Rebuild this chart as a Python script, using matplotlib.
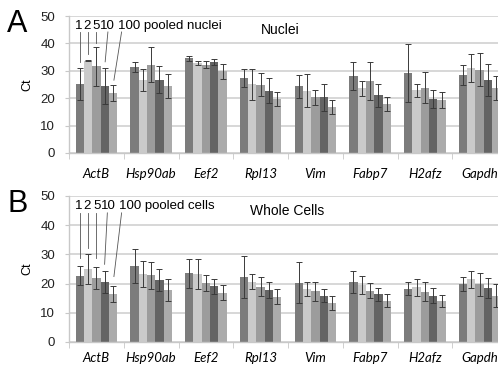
import matplotlib
matplotlib.use("Agg")
from matplotlib import pyplot as plt
import numpy as np

genes = ["ActB", "Hsp90ab", "Eef2", "Rpl13", "Vim", "Fabp7", "H2afz", "Gapdh"]
pools = ["1", "2", "5", "10", "100"]

# Ct means per pool size (rows) for each gene (columns)
nuclei_ct = [
    [25.3, 31.5, 34.6, 27.4, 24.3, 28.1, 29.2, 28.4],
    [33.7, 26.7, 32.8, 25.1, 22.8, 23.6, 22.9, 31.0],
    [31.6, 32.2, 32.3, 24.9, 20.3, 26.2, 23.8, 30.4],
    [24.5, 26.8, 33.3, 22.7, 20.3, 21.0, 19.7, 26.6],
    [21.9, 24.5, 29.8, 19.8, 16.8, 17.8, 19.3, 23.7],
]
nuclei_err = [
    [5.8, 1.9, 1.0, 3.4, 4.3, 5.0, 10.5, 3.6],
    [0.2, 4.0, 0.8, 5.7, 5.9, 2.8, 2.4, 5.0],
    [7.0, 6.4, 1.4, 4.2, 2.6, 6.9, 5.7, 6.0],
    [6.5, 5.0, 1.0, 4.6, 5.0, 4.3, 3.3, 5.8],
    [2.8, 4.5, 2.7, 2.6, 2.6, 2.5, 2.8, 4.4],
]
cells_ct = [
    [22.7, 25.9, 23.5, 22.2, 20.3, 20.6, 18.2, 19.7],
    [25.0, 23.3, 23.2, 20.7, 18.3, 19.5, 18.7, 21.4],
    [22.0, 22.9, 20.2, 18.9, 17.3, 17.6, 17.2, 19.7],
    [20.6, 21.2, 19.0, 17.8, 15.9, 16.3, 15.9, 18.4],
    [16.4, 17.8, 16.9, 15.5, 13.3, 14.1, 14.0, 15.9],
]
cells_err = [
    [3.2, 5.8, 5.0, 7.2, 7.0, 3.8, 2.2, 2.4],
    [5.2, 4.4, 5.2, 2.5, 2.4, 3.1, 2.8, 2.8],
    [3.8, 4.6, 2.8, 3.3, 3.2, 2.7, 3.2, 3.8],
    [3.8, 3.8, 2.5, 2.6, 2.3, 2.3, 2.5, 3.5],
    [2.8, 3.8, 2.6, 2.6, 2.4, 2.2, 2.1, 4.0],
]

# pointer labels over the first group: (label x, line top x, line end x, line end y)
nuclei_ptr = [(-0.33, -0.304, -0.304, 33.3), (-0.175, -0.152, -0.152, 36.0),
              (-0.01, 0.0, 0.0, 40.0), (0.20, 0.21, 0.16, 33.3),
              (0.40, 0.46, 0.32, 26.6)]
cells_ptr = [(-0.33, -0.304, -0.304, 28.9), (-0.175, -0.152, -0.152, 32.3),
             (0.01, 0.0, 0.0, 28.7), (0.21, 0.20, 0.15, 26.6),
             (0.41, 0.46, 0.32, 22.4)]

colors = ["#7c7c7c", "#cacaca", "#9c9c9c", "#646464", "#ababab"]
grid_col = "#d4d4d4"

plt.rcParams["font.family"] = ["Liberation Sans", "DejaVu Sans"]

fig = plt.figure(figsize=(4.98, 3.66), dpi=100)
ax_a = fig.add_axes([0.1386, 0.582, 0.8795, 0.374])
ax_b = fig.add_axes([0.1386, 0.0656, 0.8795, 0.399])

x = np.arange(len(genes))
width = 0.152


def draw_panel(ax, ct, err, ptr, title, tag, title_x, lab_pad):
    for i in range(len(pools)):
        off = (i - 2) * width
        ax.bar(x + off, ct[i], width, color=colors[i], zorder=2)
        ax.errorbar(x + off, ct[i], yerr=err[i], fmt="none", ecolor="#3a3a3a",
                    elinewidth=0.7, capsize=2.0, capthick=0.7, zorder=3)
    ax.set_xlim(-0.5, 7.5)
    ax.set_ylim(0, 50)
    ax.set_yticks([0, 10, 20, 30, 40, 50])
    ax.yaxis.grid(True, color=grid_col, linewidth=1.3, zorder=0)
    ax.set_axisbelow(True)
    for s in ["top", "right"]:
        ax.spines[s].set_visible(False)
    for s in ["left", "bottom"]:
        ax.spines[s].set_color("#c8c8c8")
        ax.spines[s].set_linewidth(1.0)
    ax.set_xticks(x)
    ax.set_xticklabels(genes, fontstyle="italic", fontsize=9.5, family="Lato")
    ax.set_xticks(np.arange(-0.5, 8.0, 1.0), minor=True)
    ax.tick_params(axis="x", which="major", length=0, pad=lab_pad)
    ax.tick_params(axis="x", which="minor", length=4, color="#c8c8c8")
    ax.tick_params(axis="y", length=3, color="#c8c8c8", labelsize=9.5, pad=7,
                   labelcolor="#222222")
    ax.set_ylabel("Ct", fontsize=9)
    ax.yaxis.set_label_coords(-0.082, 0.5)

    for lab, (lx, tx, ex, ey) in zip(pools, ptr):
        ax.plot([tx, ex], [44.2, ey], color="#555555", linewidth=0.6, zorder=4)
    ax.text(ptr[0][0], 46.5, "1", ha="center", va="center", fontsize=9.5)
    ax.text(ptr[1][0], 46.5, "2", ha="center", va="center", fontsize=9.5)
    ax.text(ptr[2][0], 46.5, "5", ha="center", va="center", fontsize=9.5)
    ax.text(ptr[3][0], 46.5, "10", ha="center", va="center", fontsize=9.5)
    ax.text(ptr[4][0], 46.5, "100 pooled " + tag, ha="left", va="center",
            fontsize=9.5)
    ax.text(title_x, 45.0, title, ha="center", va="center", fontsize=10)


draw_panel(ax_a, nuclei_ct, nuclei_err, nuclei_ptr, "Nuclei", "nuclei", 3.36, 11)
draw_panel(ax_b, cells_ct, cells_err, cells_ptr, "Whole Cells", "cells", 3.48, 7)

fig.text(0.035, 0.934, "A", fontsize=22, ha="center", va="center")
fig.text(0.035, 0.443, "B", fontsize=22, ha="center", va="center")

fig.savefig("out.png", dpi=100)
